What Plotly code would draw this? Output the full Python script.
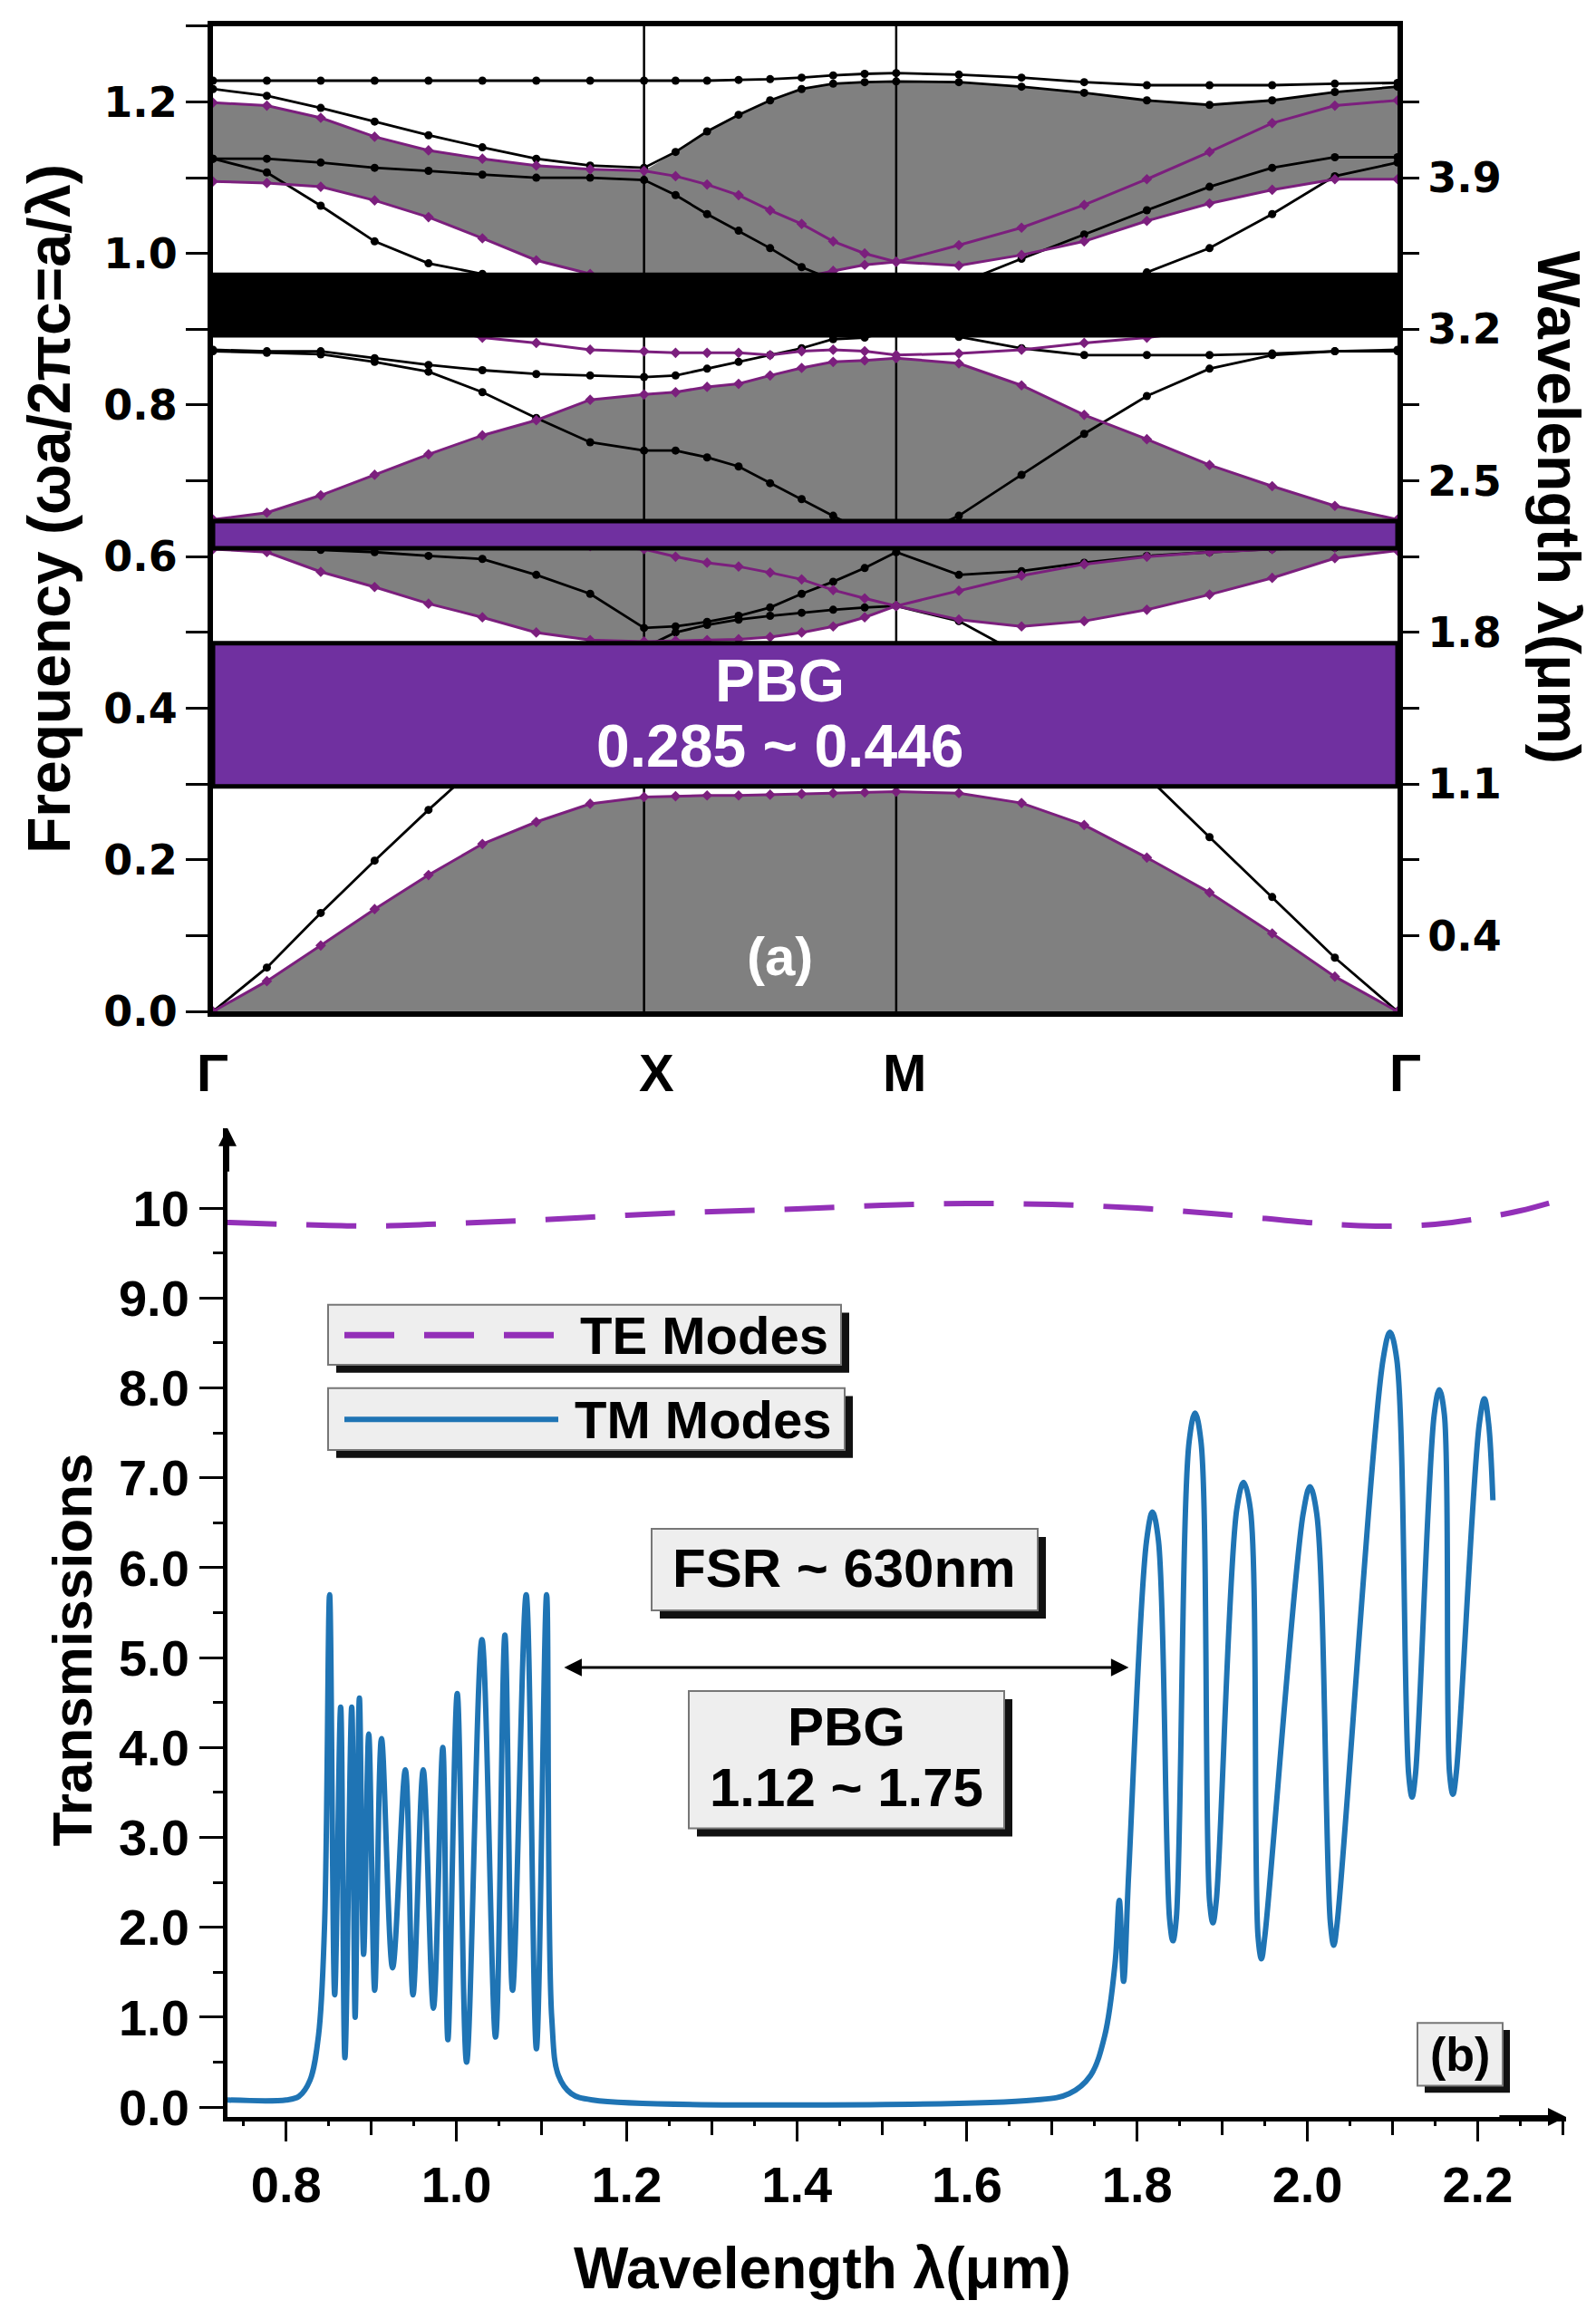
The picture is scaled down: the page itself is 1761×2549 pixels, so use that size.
import numpy as np
import plotly.graph_objects as go

W, H = 1761, 2549


def PX(x):
    return x / W


def PY(y):
    return 1 - y / H


# ---------------- Panel (a): band diagram data ----------------
K_NODES = [0.0, 1.0, 1.585, 2.748]
K_LABELS = ["Γ", "X", "M", "Γ"]
K_LABEL_SHIFT = [0, 14, 9, 8]

TE1 = [0.000, 0.040, 0.087, 0.135, 0.180, 0.221, 0.250, 0.274, 0.283,
       0.284, 0.285, 0.285, 0.286, 0.287, 0.288, 0.289, 0.290,
       0.288, 0.275, 0.246, 0.203, 0.157, 0.103, 0.046, 0.000]
TE2 = [0.610, 0.606, 0.580, 0.560, 0.538, 0.520, 0.500, 0.490, 0.488,
       0.489, 0.490, 0.491, 0.494, 0.500, 0.508, 0.520, 0.535,
       0.517, 0.508, 0.515, 0.530, 0.550, 0.572, 0.598, 0.608]
TE3 = [0.612, 0.613, 0.615, 0.617, 0.618, 0.618, 0.617, 0.614, 0.610,
       0.600, 0.592, 0.587, 0.579, 0.570, 0.556, 0.545, 0.535,
       0.555, 0.575, 0.590, 0.600, 0.606, 0.610, 0.612, 0.614]
TE4 = [0.649, 0.658, 0.681, 0.708, 0.735, 0.760, 0.780, 0.807, 0.814,
       0.817, 0.824, 0.828, 0.839, 0.849, 0.857, 0.859, 0.862,
       0.855, 0.826, 0.787, 0.755, 0.721, 0.693, 0.667, 0.649]
TE5A = [0.940, 0.935, 0.930, 0.920, 0.905, 0.889, 0.882, 0.873, 0.871,
        0.869, 0.869, 0.869, 0.866, 0.871, 0.873, 0.871, 0.866,
        0.868, 0.873, 0.882, 0.889, 0.900, 0.915, 0.930, 0.940]
TE5 = [1.095, 1.093, 1.088, 1.070, 1.048, 1.020, 0.991, 0.973, 0.960,
       0.955, 0.956, 0.958, 0.962, 0.968, 0.977, 0.985, 0.989,
       0.984, 0.998, 1.016, 1.043, 1.066, 1.084, 1.098, 1.098]
TE6 = [1.199, 1.195, 1.179, 1.154, 1.136, 1.125, 1.116, 1.111, 1.109,
       1.102, 1.091, 1.077, 1.057, 1.039, 1.016, 1.000, 0.989,
       1.011, 1.034, 1.064, 1.098, 1.134, 1.172, 1.195, 1.202]

TM1 = [0.000, 0.058, 0.130, 0.199, 0.266, 0.330, 0.390, 0.440, 0.480,
       0.500, 0.510, 0.517, 0.522, 0.526, 0.530, 0.533, 0.535,
       0.515, 0.470, 0.400, 0.310, 0.230, 0.151, 0.071, 0.000]
TM2 = [0.612, 0.612, 0.609, 0.606, 0.601, 0.597, 0.576, 0.551, 0.506,
       0.508, 0.514, 0.522, 0.533, 0.551, 0.567, 0.585, 0.606,
       0.576, 0.581, 0.592, 0.601, 0.606, 0.610, 0.612, 0.612]
TM3 = [0.871, 0.869, 0.867, 0.857, 0.844, 0.817, 0.783, 0.751, 0.740,
       0.740, 0.731, 0.719, 0.697, 0.676, 0.654, 0.632, 0.615,
       0.654, 0.708, 0.762, 0.812, 0.848, 0.866, 0.871, 0.871]
TM4 = [0.873, 0.871, 0.871, 0.862, 0.853, 0.846, 0.841, 0.839, 0.837,
       0.839, 0.848, 0.857, 0.866, 0.875, 0.887, 0.889, 0.900,
       0.890, 0.875, 0.866, 0.866, 0.866, 0.868, 0.871, 0.873]
TMD = [1.125, 1.107, 1.063, 1.016, 0.987, 0.973, 0.955, 0.935, 0.920,
       0.920, 0.922, 0.925, 0.930, 0.935, 0.940, 0.945, 0.950,
       0.945, 0.940, 0.945, 0.975, 1.007, 1.052, 1.102, 1.120]
TMC = [1.125, 1.125, 1.120, 1.113, 1.109, 1.104, 1.100, 1.100, 1.097,
       1.077, 1.052, 1.030, 1.007, 0.982, 0.965, 0.955, 0.950,
       0.960, 0.993, 1.025, 1.057, 1.088, 1.113, 1.127, 1.127]
TMB = [1.217, 1.208, 1.192, 1.174, 1.156, 1.140, 1.125, 1.116, 1.113,
       1.134, 1.161, 1.183, 1.202, 1.217, 1.224, 1.226, 1.227,
       1.226, 1.220, 1.212, 1.202, 1.196, 1.202, 1.213, 1.220]
TMA = [1.228, 1.228, 1.228, 1.228, 1.228, 1.228, 1.228, 1.228, 1.228,
       1.228, 1.228, 1.229, 1.230, 1.232, 1.235, 1.237, 1.238,
       1.236, 1.232, 1.226, 1.222, 1.222, 1.222, 1.224, 1.225]

# horizontal gap bars (frequency ranges)
BLACK_BAR = (0.892, 0.972)
THIN_PBG = (0.611, 0.647)
MAIN_PBG = (0.297, 0.486)
PBG_LINES_A = ["PBG", "0.285 ~ 0.446"]

FREQ_TICKS = [0.0, 0.2, 0.4, 0.6, 0.8, 1.0, 1.2]
WL_TICKVALS = [0.1, 0.2, 0.3, 0.4, 0.5, 0.6, 0.7, 0.8, 0.9, 1.0, 1.1, 1.2]
WL_TICKTEXT = ["0.4", "", "1.1", "", "1.8", "", "2.5", "", "3.2", "", "3.9", ""]

# ---------------- Panel (b): transmission spectra ----------------
TE_WL = [0.73, 0.80, 0.90, 1.00, 1.10, 1.20, 1.30, 1.40, 1.50, 1.60,
         1.70, 1.80, 1.90, 2.00, 2.05, 2.10, 2.15, 2.20, 2.25, 2.30]
TE_T = [9.84, 9.82, 9.80, 9.83, 9.87, 9.92, 9.96, 9.99, 10.03, 10.05,
        10.04, 10.00, 9.93, 9.84, 9.81, 9.80, 9.82, 9.88, 9.97, 10.10]

TM_WL = [0.731, 0.800, 0.815, 0.828, 0.838, 0.845, 0.851, 0.857, 0.864,
         0.869, 0.877, 0.881, 0.886, 0.891, 0.897, 0.904, 0.912, 0.925,
         0.940, 0.949, 0.961, 0.973, 0.984, 0.990, 1.001, 1.012, 1.030,
         1.046, 1.057, 1.066, 1.082, 1.094, 1.106, 1.112, 1.120, 1.135,
         1.160, 1.680, 1.720, 1.745, 1.762, 1.774, 1.779, 1.784, 1.790,
         1.811, 1.818, 1.825, 1.838, 1.842, 1.846, 1.861, 1.868, 1.875,
         1.885, 1.889, 1.893, 1.917, 1.925, 1.933, 1.942, 1.946, 1.950,
         1.995, 2.003, 2.011, 2.027, 2.031, 2.035, 2.089, 2.097, 2.105,
         2.119, 2.123, 2.127, 2.149, 2.155, 2.161, 2.167, 2.171, 2.175,
         2.202, 2.208, 2.213, 2.218]
TM_T = [0.08, 0.08, 0.12, 0.30, 0.80, 2.00, 5.70, 1.25, 4.45,
        0.55, 4.45, 1.00, 4.55, 1.70, 4.15, 1.30, 4.10, 1.55,
        3.75, 1.25, 3.75, 1.10, 4.00, 0.75, 4.60, 0.50, 5.20,
        0.78, 5.25, 1.30, 5.70, 0.65, 5.70, 1.00, 0.35, 0.15,
        0.08, 0.08, 0.15, 0.35, 0.80, 1.60, 2.30, 1.40, 2.60,
        6.30, 6.62, 6.30, 2.10, 1.85, 2.10, 7.40, 7.72, 7.40,
        2.30, 2.05, 2.30, 6.65, 6.95, 6.65, 1.90, 1.65, 1.90,
        6.60, 6.90, 6.60, 2.05, 1.80, 2.05, 8.32, 8.62, 8.32,
        3.70, 3.45, 3.70, 7.70, 7.98, 7.70, 3.72, 3.48, 3.72,
        7.60, 7.88, 7.60, 6.75]

T_TICKVALS = [0, 1, 2, 3, 4, 5, 6, 7, 8, 9, 10]
T_TICKTEXT = ["0.0", "1.0", "2.0", "3.0", "4.0", "5.0", "6.0", "7.0", "8.0", "9.0", "10"]
FSR_TEXT = "FSR ~ 630nm"
PBG_LINES_B = ["PBG", "1.12 ~ 1.75"]
FSR_RANGE = (1.125, 1.79)
FSR_LEVEL = 4.89

# ---------------- styling ----------------
GRAY = "#808080"
BAR_PURPLE = "#7030a0"
TE_BAND = "#7b1f7d"
TM_SPEC = "#1f74b4"
TE_SPEC = "#9330b8"
FONT = "Liberation Sans"
TICKFONT_A = dict(family="DejaVu Sans", size=46, color="black", weight="bold")
TICKFONT_B = dict(family=FONT, size=56, color="black", weight="bold")

# k-path positions (8 intervals per segment)
k = np.concatenate([np.linspace(K_NODES[i], K_NODES[i + 1], 9)[:-1] for i in range(3)]
                   + [[K_NODES[3]]])

fig = go.Figure()


def fill_between(lower, upper):
    xs = list(k) + list(k[::-1])
    ys = list(lower) + list(upper[::-1])
    fig.add_trace(go.Scatter(x=xs, y=ys, fill="toself", fillcolor=GRAY, mode="lines",
                             line=dict(width=0, color=GRAY), hoverinfo="skip",
                             showlegend=False, xaxis="x", yaxis="y"))


fill_between([0.0] * len(k), TE1)
fill_between(TE2, TE4)
gray3_top = TE6[:9] + TMB[9:]
fill_between(TE5, gray3_top)

for kn in K_NODES[1:3]:
    fig.add_trace(go.Scatter(x=[kn, kn], y=[0, 1.3], mode="lines",
                             line=dict(color="black", width=2.5), hoverinfo="skip",
                             showlegend=False, xaxis="x", yaxis="y"))

for band in [TM1, TM2, TM3, TM4, TMD, TMC, TMB, TMA]:
    fig.add_trace(go.Scatter(x=k, y=band, mode="lines+markers",
                             line=dict(color="black", width=2.8),
                             marker=dict(color="black", size=9, symbol="circle"),
                             showlegend=False, xaxis="x", yaxis="y"))
for band in [TE1, TE2, TE3, TE4, TE5A, TE5, TE6]:
    fig.add_trace(go.Scatter(x=k, y=band, mode="lines+markers",
                             line=dict(color=TE_BAND, width=3),
                             marker=dict(color=TE_BAND, size=9, symbol="diamond"),
                             showlegend=False, xaxis="x", yaxis="y"))

# dummy trace to activate right axis
fig.add_trace(go.Scatter(x=[k[0]], y=[0], mode="markers", marker=dict(opacity=0),
                         showlegend=False, hoverinfo="skip", xaxis="x", yaxis="y2"))

# Panel (b) traces
fig.add_trace(go.Scatter(x=TE_WL, y=TE_T, mode="lines", name="TE Modes",
                         line=dict(color=TE_SPEC, width=6, dash="55px,33px", shape="spline"),
                         showlegend=False, xaxis="x2", yaxis="y3"))
fig.add_trace(go.Scatter(x=TM_WL, y=TM_T, mode="lines", name="TM Modes",
                         line=dict(color=TM_SPEC, width=6, shape="spline", smoothing=1.0),
                         showlegend=False, xaxis="x2", yaxis="y3"))
fig.add_trace(go.Scatter(x=[TE_WL[0]], y=[0], mode="markers", marker=dict(opacity=0),
                         showlegend=False, hoverinfo="skip", xaxis="x3", yaxis="y3"))

shapes = []
for (y0, y1), fc in [(BLACK_BAR, "black"), (THIN_PBG, BAR_PURPLE), (MAIN_PBG, BAR_PURPLE)]:
    shapes.append(dict(type="rect", xref="x", yref="y", x0=K_NODES[0], x1=K_NODES[-1],
                       y0=y0, y1=y1, fillcolor=fc, line=dict(color="black", width=5),
                       layer="above"))


def box(x0, y0, x1, y1, off=9):
    shapes.append(dict(type="rect", xref="paper", yref="paper", x0=PX(x0 + off), x1=PX(x1 + off),
                       y0=PY(y1 + off), y1=PY(y0 + off), fillcolor="#111111",
                       line=dict(width=0), layer="above"))
    shapes.append(dict(type="rect", xref="paper", yref="paper", x0=PX(x0), x1=PX(x1),
                       y0=PY(y1), y1=PY(y0), fillcolor="#eeeeee",
                       line=dict(color="#777777", width=2), layer="above"))


box(354, 1447, 920, 1514)
box(354, 1540, 924, 1609)
box(711, 1697, 1137, 1788)
box(752, 1878, 1100, 2031)
box(1556, 2248, 1650, 2318, off=8)
shapes.append(dict(type="line", xref="paper", yref="paper", x0=PX(372), x1=PX(612),
                   y0=PY(1481), y1=PY(1481), line=dict(color=TE_SPEC, width=7, dash="55px,33px"),
                   layer="above"))
shapes.append(dict(type="line", xref="paper", yref="paper", x0=PX(372), x1=PX(608),
                   y0=PY(1575), y1=PY(1575), line=dict(color=TM_SPEC, width=6), layer="above"))

ann = []
bold = dict(family=FONT, color="black", weight="bold")
C = dict(xanchor="center", yanchor="middle", showarrow=False)
wfont = dict(family=FONT, size=66, color="white", weight="bold")
ann.append(dict(text=PBG_LINES_A[0], x=1.316, y=0.437, xref="x", yref="y", font=wfont, **C))
ann.append(dict(text=PBG_LINES_A[1], x=1.316, y=0.350, xref="x", yref="y", font=wfont, **C))
ann.append(dict(text="(a)", x=1.316, y=0.073, xref="x", yref="y",
                font=dict(family=FONT, size=60, color="white", weight="bold"), **C))
for kn, lab, sh in zip(K_NODES, K_LABELS, K_LABEL_SHIFT):
    ann.append(dict(text=lab, x=kn, y=PY(1188), xref="x", yref="paper", xshift=sh,
                    font=dict(size=58, **bold), **C))
ann.append(dict(text="Frequency (ωa/2πc=a/λ)", x=PX(46), y=PY(560), xref="paper", yref="paper",
                textangle=-90, font=dict(size=66, **bold), **C))
ann.append(dict(text="Wavelength λ(μm)", x=PX(1712), y=PY(558), xref="paper", yref="paper",
                textangle=90, font=dict(size=66, **bold), **C))
ann.append(dict(text="Transmissions", x=PX(72), y=PY(1832), xref="paper", yref="paper",
                textangle=-90, font=dict(size=62, **bold), **C))
ann.append(dict(text="Wavelength λ(μm)", x=1.43, y=PY(2522), xref="x2", yref="paper",
                font=dict(size=64, **bold), **C))
ann.append(dict(text="TE Modes", x=PX(908), y=PY(1481), xref="paper", yref="paper",
                xanchor="right", yanchor="middle", showarrow=False, font=dict(size=58, **bold)))
ann.append(dict(text="TM Modes", x=PX(912), y=PY(1575), xref="paper", yref="paper",
                xanchor="right", yanchor="middle", showarrow=False, font=dict(size=58, **bold)))
ann.append(dict(text=FSR_TEXT, x=PX(924), y=PY(1741), xref="paper", yref="paper",
                font=dict(size=60, **bold), **C))
ann.append(dict(text=PBG_LINES_B[0], x=PX(926), y=PY(1918), xref="paper", yref="paper",
                font=dict(size=60, **bold), **C))
ann.append(dict(text=PBG_LINES_B[1], x=PX(926), y=PY(1986), xref="paper", yref="paper",
                font=dict(size=60, **bold), **C))
ann.append(dict(text="(b)", x=PX(1603), y=PY(2283), xref="paper", yref="paper",
                font=dict(size=52, **bold), **C))
# FSR double arrow
ann.append(dict(text="", x=FSR_RANGE[1], y=FSR_LEVEL, ax=FSR_RANGE[0], ay=FSR_LEVEL,
                xref="x2", yref="y3", axref="x2", ayref="y3", showarrow=True,
                arrowhead=2, arrowsize=1.3, arrowwidth=3, arrowside="end+start",
                arrowcolor="black"))
XR = [0.731, 2.304]
YR = [-0.11, 10.89]
ann.append(dict(text="", x=XR[0], y=YR[1], ax=XR[0], ay=YR[1] - 0.5, xref="x2", yref="y3",
                axref="x2", ayref="y3", showarrow=True, arrowhead=2, arrowsize=1.0,
                arrowwidth=4, arrowcolor="black"))
ann.append(dict(text="", x=XR[1], y=YR[0], ax=XR[1] - 0.08, ay=YR[0], xref="x2", yref="y3",
                axref="x2", ayref="y3", showarrow=True, arrowhead=2, arrowsize=1.0,
                arrowwidth=4, arrowcolor="black"))

fig.update_layout(
    width=W, height=H, margin=dict(l=0, r=0, t=0, b=0),
    paper_bgcolor="white", plot_bgcolor="white", showlegend=False,
    font=dict(family=FONT, color="black"),
    shapes=shapes, annotations=ann,
    xaxis=dict(domain=[PX(227), PX(1534)], range=[K_NODES[0], K_NODES[-1]], anchor="y",
               showticklabels=False, ticks="", showgrid=False, zeroline=False,
               showline=True, mirror=True, linewidth=6, linecolor="black"),
    yaxis=dict(domain=[PY(1120), PY(21)], range=[0, 1.3], anchor="x",
               tickvals=FREQ_TICKS, ticktext=[f"{v:.1f}" for v in FREQ_TICKS],
               ticks="outside", ticklen=24, tickwidth=3, tickcolor="black",
               minor=dict(dtick=0.1, ticks="outside", ticklen=24, tickwidth=3, tickcolor="black"),
               showgrid=False, zeroline=False, showline=True, mirror=True,
               linewidth=6, linecolor="black", tickfont=TICKFONT_A),
    yaxis2=dict(overlaying="y", side="right", anchor="x", range=[0, 1.3],
                tickvals=WL_TICKVALS, ticktext=WL_TICKTEXT, ticks="outside", ticklen=23,
                tickwidth=3, tickcolor="black", showgrid=False, zeroline=False,
                showline=False, tickfont=TICKFONT_A),
    xaxis2=dict(domain=[PX(243), PX(1720)], range=XR, anchor="y3",
                tick0=0.8, dtick=0.2, tickformat=".1f", ticks="outside", ticklen=22,
                tickwidth=3, tickcolor="black",
                minor=dict(dtick=0.1, tick0=0.8, ticks="outside", ticklen=15, tickwidth=3,
                           tickcolor="black"),
                showgrid=False, zeroline=False, showline=True, linewidth=5,
                linecolor="black", tickfont=TICKFONT_B),
    xaxis3=dict(overlaying="x2", anchor="y3", range=XR, showticklabels=False,
                tickvals=[round(0.75 + 0.1 * i, 2) for i in range(16)], ticks="outside",
                ticklen=9, tickwidth=3, tickcolor="black", showgrid=False,
                zeroline=False, showline=False),
    yaxis3=dict(domain=[PY(2353), PY(1250)], range=YR, anchor="x2",
                tickvals=T_TICKVALS, ticktext=T_TICKTEXT, ticks="outside", ticklen=26,
                tickwidth=3, tickcolor="black",
                minor=dict(tickvals=[i + 0.5 for i in range(10)], ticks="outside",
                           ticklen=11, tickwidth=3, tickcolor="black"),
                showgrid=False, zeroline=False, showline=True, linewidth=5,
                linecolor="black", tickfont=TICKFONT_B),
)

fig.write_html("out.html")
